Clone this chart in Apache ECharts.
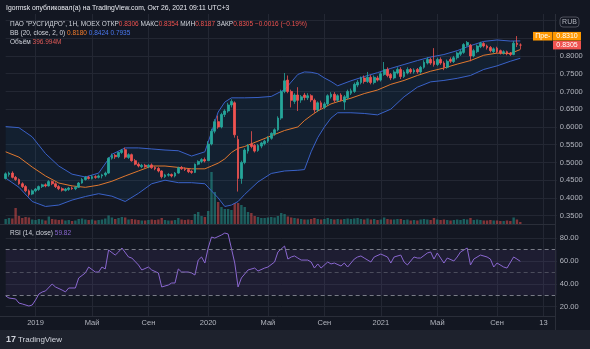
<!DOCTYPE html>
<html><head><meta charset="utf-8">
<script src="https://cdn.jsdelivr.net/npm/echarts@6/dist/echarts.min.js"></script>
<style>html,body{margin:0;padding:0;background:#131722;}#c{width:590px;height:349px;}</style>
</head><body><div id="c"></div>
<script>
// ---- data (weekly candles, HYDR, from week of 2018-11-05) ----
const firstWeek = '2018-11-05';
const nCategories = 167;
const openP = [.455,.466,.470,.458,.452,.440,.432,.420,.411,.420,
.424,.432,.437,.434,.446,.440,.432,.426,.421,.424,
.428,.426,.430,.442,.452,.458,.455,.460,.458,.462,
.465,.470,.512,.520,.516,.528,.536,.514,.522,.505,
.495,.488,.492,.488,.493,.486,.483,.476,.460,.464,
.466,.462,.470,.486,.482,.480,.475,.472,.495,.503,
.508,.505,.552,.588,.615,.600,.635,.645,.662,.668,
.565,.455,.500,.532,.552,.548,.534,.546,.553,.560,
.568,.580,.592,.625,.700,.732,.700,.672,.690,.676,
.690,.682,.688,.675,.648,.668,.655,.665,.685,.692,
.675,.690,.670,.682,.695,.700,.718,.725,.738,.728,
.740,.725,.738,.732,.748,.762,.748,.738,.752,.762,
.742,.752,.762,.755,.762,.755,.768,.780,.790,.785,
.776,.790,.780,.768,.790,.784,.795,.805,.810,.830,
.830,.800,.812,.826,.835,.828,.824,.812,.822,.815,
.808,.812,.808,.804,.836,.8306];
const closeP = [.468,.470,.458,.452,.440,.432,.420,.410,.420,.425,
.432,.437,.434,.446,.440,.432,.426,.422,.425,.428,
.426,.430,.442,.452,.458,.455,.460,.458,.462,.465,
.470,.512,.520,.516,.528,.534,.515,.522,.505,.495,
.490,.492,.488,.492,.485,.482,.476,.460,.465,.466,
.462,.470,.485,.482,.480,.474,.472,.495,.503,.508,
.504,.552,.588,.615,.600,.635,.645,.662,.672,.578,
.455,.500,.535,.548,.545,.532,.548,.555,.560,.570,
.582,.592,.625,.700,.730,.700,.675,.690,.675,.685,
.683,.688,.676,.648,.668,.655,.665,.688,.692,.675,
.688,.676,.685,.700,.702,.720,.726,.738,.728,.740,
.725,.740,.732,.750,.762,.745,.738,.755,.762,.742,
.755,.762,.755,.760,.755,.768,.782,.790,.780,.776,
.790,.780,.768,.785,.785,.795,.808,.812,.832,.838,
.800,.815,.828,.836,.828,.823,.815,.820,.812,.808,
.812,.806,.804,.836,.8321,.8305];
const highP = [.472,.474,.475,.462,.455,.444,.436,.424,.424,.428,
.435,.440,.441,.450,.449,.444,.436,.430,.428,.431,
.432,.433,.445,.456,.462,.462,.464,.464,.466,.468,
.474,.515,.525,.524,.530,.538,.542,.526,.525,.510,
.500,.496,.496,.495,.497,.489,.487,.478,.468,.470,
.469,.473,.488,.490,.486,.483,.478,.497,.506,.512,
.514,.560,.595,.622,.632,.640,.650,.668,.678,.672,
.575,.505,.540,.552,.588,.552,.552,.558,.564,.574,
.585,.596,.630,.705,.752,.745,.705,.695,.712,.690,
.696,.695,.692,.680,.672,.674,.670,.692,.698,.698,
.692,.695,.690,.705,.708,.725,.732,.742,.745,.755,
.746,.745,.744,.755,.783,.768,.752,.760,.768,.768,
.760,.768,.766,.765,.766,.772,.788,.796,.795,.822,
.795,.796,.785,.790,.796,.800,.812,.818,.836,.842,
.834,.820,.832,.840,.839,.832,.828,.824,.826,.818,
.816,.815,.811,.842,.856,.8354];
const lowP = [.452,.460,.455,.448,.437,.428,.416,.404,.408,.416,
.420,.428,.430,.432,.436,.428,.422,.418,.418,.420,
.423,.422,.428,.440,.449,.452,.452,.454,.455,.455,
.460,.468,.508,.510,.512,.524,.510,.510,.502,.492,
.486,.484,.485,.484,.482,.478,.472,.455,.456,.460,
.458,.458,.468,.479,.476,.470,.468,.470,.492,.498,
.500,.505,.548,.582,.595,.596,.628,.640,.655,.570,
.418,.440,.495,.525,.540,.528,.530,.540,.548,.555,
.564,.575,.588,.620,.695,.695,.655,.665,.645,.668,
.675,.676,.670,.640,.642,.650,.650,.660,.680,.670,
.670,.672,.648,.678,.690,.696,.712,.720,.722,.724,
.720,.720,.728,.728,.744,.740,.732,.734,.748,.735,
.738,.748,.750,.750,.750,.750,.764,.776,.775,.770,
.772,.775,.760,.764,.780,.780,.790,.800,.806,.826,
.785,.796,.808,.822,.824,.818,.810,.808,.808,.804,
.804,.802,.800,.802,.825,.8187];
// weekly volume, millions of shares
const volumeM = [1000,1200,1100,3200,1600,1200,1400,1300,900,800,
1000,900,700,1500,1000,900,800,900,700,800,
600,700,1000,1100,900,800,900,700,800,900,
1100,1700,1300,1000,1200,1400,1300,900,1000,900,
800,700,700,800,900,800,900,1200,800,700,
700,800,1200,900,800,900,800,2000,2400,1600,
1400,2600,10400,6400,4400,3400,3000,3000,2800,4200,
4200,3800,3400,2400,2200,1600,1400,1200,1200,1300,
1400,1300,1600,2200,2000,1500,1300,1200,1100,1000,
900,900,1000,1200,1000,900,1000,1200,1000,900,
1000,900,1000,1100,1000,1100,1200,1000,900,1100,
900,1000,800,900,1300,1000,900,900,1000,1000,
800,900,700,800,700,900,1000,900,800,1200,
900,800,900,800,700,800,900,800,1000,900,
1200,800,900,800,700,700,800,700,700,600,
600,700,600,1300,900,397];
// Bollinger Bands (20, 2) at these week indices
const bbIdx = [0,4,8,12,16,20,24,28,32,36,40,44,48,52,56,60,62,64,66,68,70,72,76,80,84,88,90,92,94,96,98,100,104,108,112,116,120,124,128,132,136,140,144,148,152,155];
const bbUpper = [.601,.598,.572,.525,.490,.467,.459,.470,.523,.541,.541,.538,.535,.533,.518,.530,.585,.642,.670,.682,.682,.682,.683,.686,.705,.748,.755,.754,.750,.738,.728,.716,.730,.742,.753,.765,.776,.787,.797,.804,.815,.829,.841,.845,.842,.8424];
const bbMiddle = [.530,.515,.487,.462,.442,.434,.430,.436,.447,.462,.476,.490,.490,.486,.482,.482,.490,.498,.510,.528,.540,.545,.560,.575,.590,.600,.618,.632,.645,.655,.665,.671,.681,.694,.704,.720,.731,.745,.757,.766,.777,.787,.802,.808,.807,.818];
const bbLower = [.456,.430,.390,.376,.380,.394,.404,.412,.405,.390,.413,.440,.450,.443,.443,.440,.420,.400,.376,.380,.390,.410,.445,.469,.476,.478,.480,.530,.570,.600,.625,.640,.640,.638,.634,.650,.685,.712,.727,.731,.737,.745,.762,.772,.785,.7935];
// RSI (14)
const rsiIdx = [0,1,3,4,5,7,8,9,10,11,12,14,15,17,18,19,21,22,24,25,27,28,29,30,31,33,34,35,37,38,40,41,43,44,46,47,49,50,51,52,53,55,56,57,58,59,60,61,62,63,65,66,67,69,70,71,73,75,76,78,79,81,82,84,85,86,87,88,89,91,92,93,94,95,97,98,99,101,102,103,105,106,107,108,110,111,113,115,116,117,119,120,121,123,124,125,127,128,129,130,132,133,135,136,137,139,140,141,143,145,146,147,148,150,151,153,154,155];
const rsiVal = [29.4,27.6,26.8,23.2,22.4,20.6,21.5,25.9,31.1,32.9,33.8,39.9,37.3,34.6,33,36.4,36.4,45.2,49.6,54.8,50.4,50.4,54.8,53.1,69.7,65.3,68,71.5,63.6,62.7,56.6,52.2,54.8,52.2,49.6,37.3,39,40.8,40.8,53.1,50.4,50.4,49.6,47.8,60.9,63.6,58.3,71.5,81.1,80.2,82.9,84.6,83.8,58.3,37.3,45.2,52.2,53.9,51.3,53.9,54.8,59.2,68,73.2,61.8,63.6,64.5,62.7,60.9,60.9,59.2,53.9,57.5,53.9,59.2,57.5,58.3,55.7,58.3,54.8,61.8,63.6,64.5,62.7,59.2,63.6,66.2,63.6,58.3,63.6,65.3,59.2,56.6,63.6,62.7,62.7,67.1,68,61.8,67.1,58.3,62.7,60.1,63.6,68,71.5,56.6,61.8,65.3,63.6,61.8,54.8,58.3,54.8,53.9,63.6,61.8,59.82];
// time-axis tick labels
const tickIdx = [9,26,43,61,79,96,113,130,148,162];
const tickText = ['2019','Май','Сен','2020','Май','Сен','2021','Май','Сен','13'];
const priceTicksHidden = [0.30,0.85,0.90,0.95];
const lastPrice = 0.8305, prePrice = 0.8310;

// ---- chart ----
const UP='#26a69a', DOWN='#ef5350';
const cats=[]; {const t0=Date.parse(firstWeek+'T00:00:00Z'); for(let k=0;k<nCategories;k++){cats.push(new Date(t0+k*7*864e5).toISOString().slice(0,10));}}
const gridL=5.66, gridR=33.2;
const gridCol='#232733';
const txt='#b2b5be';
const FONT='"Liberation Sans", Arial, sans-serif';

const chart=echarts.init(document.getElementById('c'),null,{renderer:'canvas'});
const candles=openP.map((o,i)=>[o,closeP[i],lowP[i],highP[i]]);
const vols=volumeM.map((v,i)=>({value:v,itemStyle:{color:closeP[i]>=openP[i]?'rgba(38,166,154,0.5)':'rgba(239,83,80,0.5)'}}));
const pair=(idx,vals)=>idx.map((k,j)=>[k,vals[j]]);
const isTick=(i)=>tickIdx.indexOf(i)>=0;

const priceSplitCols=[];for(let v=30;v<=95;v+=5){priceSplitCols.push((v===30||v===95)?'rgba(0,0,0,0)':gridCol);}

const option={
  backgroundColor:'#131722',
  animation:false,
  grid:[
    {left:gridL,right:gridR,top:2.7,height:230.75},
    {left:gridL,right:gridR,top:164,height:60},
    {left:gridL,right:gridR,top:215.5,height:114},
    {left:gridL,right:gridR,top:14,height:302}
  ],
  xAxis:[
    {type:'category',gridIndex:0,data:cats,boundaryGap:false,show:false},
    {type:'category',gridIndex:1,data:cats,boundaryGap:false,show:false},
    {type:'category',gridIndex:2,data:cats,boundaryGap:false,show:false},
    {type:'category',gridIndex:3,data:cats,boundaryGap:false,
     axisLine:{show:false},axisTick:{show:false},
     axisLabel:{interval:(i)=>isTick(i),formatter:(v,i)=>tickText[tickIdx.indexOf(i)],color:txt,fontSize:7.5,fontFamily:FONT,margin:3},
     splitLine:{show:true,interval:(i)=>isTick(i),lineStyle:{color:gridCol,width:1}}}
  ],
  yAxis:[
    {type:'value',gridIndex:0,position:'right',min:0.30,max:0.95,interval:0.05,
     axisLine:{show:false},axisTick:{show:false},
     axisLabel:{color:txt,fontSize:7.5,fontFamily:FONT,margin:3,
       formatter:(v)=>priceTicksHidden.some(h=>Math.abs(h-v)<1e-6)?'':v.toFixed(4)},
     splitLine:{lineStyle:{color:priceSplitCols}}},
    {type:'value',gridIndex:1,min:0,max:12000,show:false},
    {type:'value',gridIndex:2,position:'right',min:0,max:100,interval:20,
     axisLine:{show:false},axisTick:{show:false},
     axisLabel:{color:txt,fontSize:7.5,fontFamily:FONT,margin:3,formatter:(v)=>(v===0||v===100)?'':v.toFixed(2)},
     splitLine:{lineStyle:{color:['rgba(0,0,0,0)',gridCol,gridCol,gridCol,gridCol,'rgba(0,0,0,0)']}}},
    {type:'value',gridIndex:3,show:false}
  ],
  series:[
    {type:'custom',xAxisIndex:0,yAxisIndex:0,data:[0],silent:true,z:1,
     renderItem:(params,api)=>{
       const pts=[];
       bbIdx.forEach((k,j)=>pts.push(api.coord([k,bbUpper[j]])));
       for(let j=bbIdx.length-1;j>=0;j--)pts.push(api.coord([bbIdx[j],bbLower[j]]));
       return {type:'polygon',shape:{points:pts},style:{fill:'rgba(33,150,243,0.07)'}};
     }},
    {type:'bar',xAxisIndex:1,yAxisIndex:1,data:vols,barWidth:2.4,z:2},
    {type:'line',xAxisIndex:0,yAxisIndex:0,data:pair(bbIdx,bbUpper),symbol:'none',lineStyle:{color:'#3a62c8',width:1},z:3},
    {type:'line',xAxisIndex:0,yAxisIndex:0,data:pair(bbIdx,bbLower),symbol:'none',lineStyle:{color:'#3a62c8',width:1},z:3},
    {type:'line',xAxisIndex:0,yAxisIndex:0,data:pair(bbIdx,bbMiddle),symbol:'none',lineStyle:{color:'#e0782f',width:1},z:3},
    {type:'candlestick',xAxisIndex:0,yAxisIndex:0,data:candles,barWidth:2.3,clip:false,z:4,
     itemStyle:{color:UP,color0:DOWN,borderColor:UP,borderColor0:DOWN,borderWidth:0.8}},
    {type:'line',xAxisIndex:2,yAxisIndex:2,data:pair(rsiIdx,rsiVal),symbol:'none',lineStyle:{color:'#8a67d0',width:1},z:3,
     markArea:{silent:true,itemStyle:{color:'rgba(126,87,194,0.10)'},data:[[{yAxis:30},{yAxis:70}]]},
     markLine:{silent:true,symbol:'none',label:{show:false},
       lineStyle:{color:'#787b86',type:[4,3],width:1},
       data:[{yAxis:70},{yAxis:50,lineStyle:{color:'rgba(120,123,134,0.5)'}},{yAxis:30}]}}
  ]
};
chart.setOption(option);

const yLast=chart.convertToPixel({yAxisIndex:0},lastPrice);
const g=[];
const sep='#2a2e39';
const F=(s)=>s+'px '+FONT;
g.push({type:'rect',shape:{x:0,y:0,width:590,height:14},style:{fill:'#131722'},z:50});
g.push({type:'line',shape:{x1:0,y1:224.5,x2:555,y2:224.5},style:{stroke:sep,lineWidth:1},z:50});
g.push({type:'line',shape:{x1:0,y1:316.5,x2:555,y2:316.5},style:{stroke:sep,lineWidth:1},z:50});
g.push({type:'line',shape:{x1:555.5,y1:14,x2:555.5,y2:330},style:{stroke:sep,lineWidth:1},z:50});
g.push({type:'rect',shape:{x:0,y:330,width:590,height:19},style:{fill:'#1e222d'},z:50});
g.push({type:'text',x:6,y:8,style:{text:'Igormsk опубликовал(а) на TradingView.com, Окт 26, 2021 09:11 UTC+3',fill:'#e8eaf0',font:F(6.8),textVerticalAlign:'middle'},z:51});
const W='#d1d4dc',R='#ef5350',fs=6.5;
g.push({type:'text',x:10,y:24,z:51,style:{textVerticalAlign:'middle',font:F(fs),
  text:'{w|ПАО "РУСГИДРО", 1Н, MOEX ОТКР}{r|0.8306}{w| МАКС}{r|0.8354}{w| МИН}{r|0.8187}{w| ЗАКР}{r|0.8305}{r| −0.0016 (−0.19%)}',
  rich:{w:{fill:W,font:F(fs)},r:{fill:R,font:F(fs)}}}});
g.push({type:'text',x:10,y:33,z:51,style:{textVerticalAlign:'middle',font:F(fs),
  text:'{w|BB (20, close, 2, 0) }{o|0.8180}{b| 0.8424 0.7935}',
  rich:{w:{fill:W,font:F(fs)},o:{fill:'#f57c2a',font:F(fs)},b:{fill:'#4a78f0',font:F(fs)}}}});
g.push({type:'text',x:10,y:42,z:51,style:{textVerticalAlign:'middle',font:F(fs),
  text:'{w|Объём }{r|396.994M}',rich:{w:{fill:W,font:F(fs)},r:{fill:'#e05a57',font:F(fs)}}}});
g.push({type:'text',x:10,y:233,z:51,style:{textVerticalAlign:'middle',font:F(fs),
  text:'{w|RSI (14, close) }{p|59.82}',rich:{w:{fill:W,font:F(fs)},p:{fill:'#8a67d0',font:F(fs)}}}});
// RUB
g.push({type:'rect',shape:{x:560,y:17,width:19,height:10,r:3},style:{fill:'none',stroke:'#5d606b',lineWidth:0.8},z:51});
g.push({type:'text',x:569.5,y:22.3,style:{text:'RUB',fill:txt,font:F(7),textAlign:'center',textVerticalAlign:'middle'},z:52});
// price tags
g.push({type:'rect',shape:{x:553,y:yLast-4.3,width:28,height:8.6},style:{fill:'#ef5350'},z:51});
g.push({type:'text',x:567,y:yLast,style:{text:lastPrice.toFixed(4),fill:'#ffffff',font:F(7),textAlign:'center',textVerticalAlign:'middle'},z:52});
g.push({type:'rect',shape:{x:553,y:yLast-13.2,width:28,height:8.6},style:{fill:'#ff9800'},z:51});
g.push({type:'text',x:567,y:yLast-8.9,style:{text:prePrice.toFixed(4),fill:'#ffffff',font:F(7),textAlign:'center',textVerticalAlign:'middle'},z:52});
g.push({type:'rect',shape:{x:533,y:yLast-13.2,width:19.5,height:8.6},style:{fill:'#ff9800'},z:51});
g.push({type:'text',x:542.8,y:yLast-8.9,style:{text:'Пре-',fill:'#ffffff',font:F(7),textAlign:'center',textVerticalAlign:'middle'},z:52});
// footer logo
g.push({type:'text',x:6,y:339.5,style:{text:'17',fill:'#d1d4dc',font:'bold 9px '+FONT,textVerticalAlign:'middle'},z:52});
g.push({type:'text',x:18,y:339.5,style:{text:'TradingView',fill:'#d1d4dc',font:F(8),textVerticalAlign:'middle'},z:52});
chart.setOption({graphic:g});
</script></body></html>
